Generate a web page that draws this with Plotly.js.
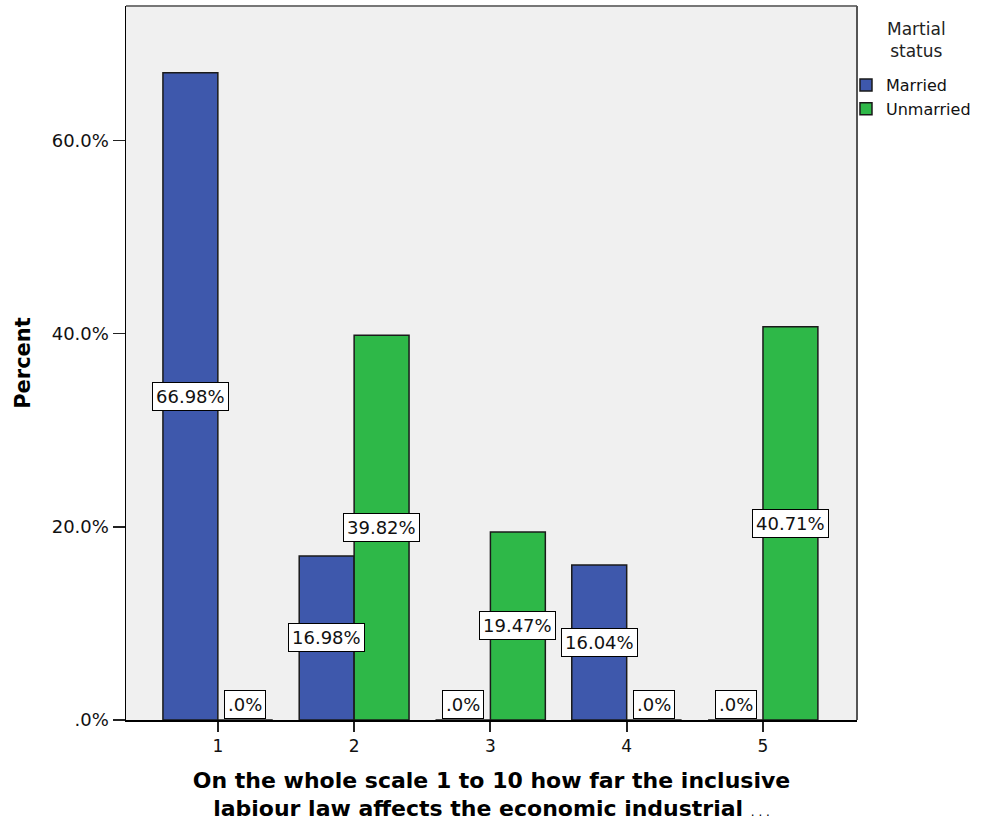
<!DOCTYPE html>
<html>
<head>
<meta charset="utf-8">
<script src="https://cdn.plot.ly/plotly-3.0.1.min.js"></script>
<style>
  html, body { margin: 0; padding: 0; background: #ffffff; }
  #chart { width: 981px; height: 824px; }
</style>
</head>
<body>
<div id="chart"></div>
<script>
// Scale ratings 1..5, percent of each marital group
const categories = [1, 2, 3, 4, 5];
const tickLabels = ['1', '2', '3', '4', '5'];
const seriesNames = ['Married', 'Unmarried'];
const marriedPct = [66.98, 16.98, 0, 16.04, 0];
const unmarriedPct = [0, 39.82, 19.47, 0, 40.71];
const yTickVals = [0, 20, 40, 60];
const yTickText = ['.0%', '20.0%', '40.0%', '60.0%'];

const colors = ['#3E58AC', '#2EB848'];
const FONT = 'DejaVu Sans, Verdana, sans-serif';
const BARGAP = 0.194;
const barW = (1 - BARGAP) / 2;

function fmt(v) {
  return v === 0 ? '.0%' : v.toFixed(2) + '%';
}

const seriesValues = [marriedPct, unmarriedPct];

const traces = seriesValues.map((vals, i) => ({
  type: 'bar',
  name: seriesNames[i],
  x: categories,
  y: vals,
  marker: { color: colors[i], line: { color: '#1a1a1a', width: 1.5 } },
  hoverinfo: 'skip'
}));

// Boxed value labels at the middle of each bar (zero bars: just above the base)
const annotations = [];
seriesValues.forEach((vals, i) => {
  const off = (i === 0 ? -1 : 1) * barW / 2;
  vals.forEach((v, j) => {
    annotations.push({
      x: categories[j] + off,
      y: v === 0 ? 0 : v / 2,
      xref: 'x', yref: 'y',
      yanchor: v === 0 ? 'bottom' : 'middle',
      yshift: v === 0 ? 1 : 0,
      text: fmt(v),
      showarrow: false,
      font: { family: FONT, size: 18, color: '#111' },
      bgcolor: '#ffffff',
      bordercolor: '#000000',
      borderwidth: 1,
      borderpad: 3
    });
  });
});

// Legend heading
annotations.push({
  xref: 'paper', yref: 'paper',
  x: 1.082, y: 1.0, xanchor: 'center', yanchor: 'top',
  yshift: -11,
  text: 'Martial<br>status',
  showarrow: false,
  font: { family: FONT, size: 17, color: '#222' }
});

const layout = {
  width: 981,
  height: 824,
  paper_bgcolor: '#ffffff',
  plot_bgcolor: '#f0f0f0',
  margin: { l: 126, r: 123, t: 6, b: 104 },
  barmode: 'group',
  bargap: BARGAP,
  bargroupgap: 0,
  showlegend: true,
  legend: {
    x: 0.9836, y: 0.913, xanchor: 'left', yanchor: 'top',
    font: { family: FONT, size: 16, color: '#111' },
    bgcolor: 'rgba(0,0,0,0)',
    borderwidth: 0,
    itemwidth: 30,
    tracegroupgap: 0,
    itemclick: false
  },
  xaxis: {
    range: [0.326, 5.69],
    tickvals: categories,
    ticktext: tickLabels,
    ticks: 'outside',
    ticklen: 10,
    tickwidth: 2,
    tickcolor: '#222',
    showline: true,
    linecolor: '#000',
    linewidth: 1.5,
    showgrid: false,
    zeroline: false,
    tickfont: { family: FONT, size: 17, color: '#111' },
    title: {
      text: 'On the whole scale 1 to 10 how far the inclusive<br>labiour law affects the economic industrial <span style="font-weight:normal;font-size:12px;color:#000">. . .</span>',
      font: { family: FONT, size: 22, color: '#000', weight: 'bold' },
      standoff: 17
    },
    fixedrange: true
  },
  yaxis: {
    range: [0, 73.9],
    tickvals: yTickVals,
    ticktext: yTickText,
    ticks: 'outside',
    ticklen: 12,
    tickwidth: 1.5,
    tickcolor: '#222',
    showline: true,
    linecolor: '#000',
    linewidth: 1.5,
    showgrid: false,
    zeroline: false,
    tickfont: { family: FONT, size: 18, color: '#111' },
    title: {
      text: 'Percent',
      font: { family: FONT, size: 21, color: '#000', weight: 'bold' },
      standoff: 15
    },
    fixedrange: true
  },
  shapes: [
    // plot frame (top and right edges)
    { type: 'line', xref: 'paper', yref: 'paper', x0: 0, x1: 1, y0: 1, y1: 1,
      line: { color: '#777', width: 2 } },
    { type: 'line', xref: 'paper', yref: 'paper', x0: 1, x1: 1, y0: 0, y1: 1,
      line: { color: '#555', width: 2 } }
  ],
  annotations: annotations
};

Plotly.newPlot('chart', traces, layout, { displayModeBar: false, staticPlot: true });
</script>
</body>
</html>
